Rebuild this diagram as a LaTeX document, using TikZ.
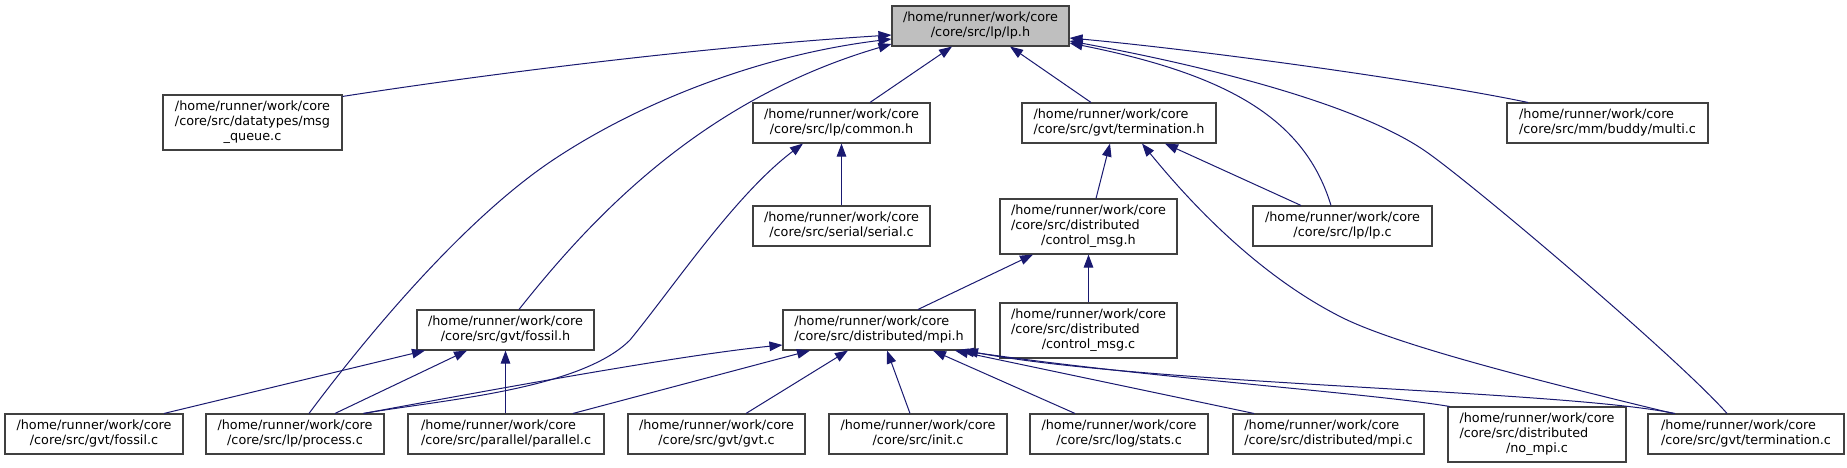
\documentclass[tikz,border=0pt]{standalone}
\usepackage{fontspec}
\setmainfont{DejaVu Sans}
\usetikzlibrary{arrows.meta}
\definecolor{edgec}{HTML}{191970}
\definecolor{boxline}{HTML}{404040}
\definecolor{boxfill}{HTML}{BFBFBF}
\newcommand{\ltwo}[2]{\begin{tabular}{@{}l@{}}#1\\\multicolumn{1}{@{}c@{}}{#2}\end{tabular}}
\newcommand{\lthree}[3]{\begin{tabular}{@{}l@{}}#1\\#2\\\multicolumn{1}{@{}c@{}}{#3}\end{tabular}}
\newcommand{\hrw}{/home/runner/work/core}
\begin{document}
\begin{tikzpicture}[x=1pt,y=-1pt,
  srcbox/.style={draw=boxline, line width=1.1pt, fill=white, inner sep=0pt, minimum height=40pt, font=\fontsize{12.8}{15}\selectfont},
  srctall/.style={srcbox, minimum height=55pt},
  curbox/.style={srcbox, fill=boxfill},
  incl/.style={draw=edgec, line width=1pt, -{Triangle[length=13pt,width=9.5pt]}}]
\useasboundingbox (0,0) rectangle (1847,468);
% nodes
\node[curbox, minimum width=177pt] (lph) at (980.5,26) {\ltwo{\hrw}{/core/src/lp/lp.h}};
\node[srctall, minimum width=179pt] (msgq) at (252.5,122.5) {\lthree{\hrw}{/core/src/datatypes/msg}{\_queue.c}};
\node[srcbox, minimum width=177pt] (common) at (841.5,123) {\ltwo{\hrw}{/core/src/lp/common.h}};
\node[srcbox, minimum width=194pt] (termh) at (1119,123) {\ltwo{\hrw}{/core/src/gvt/termination.h}};
\node[srcbox, minimum width=201pt] (multi) at (1607.5,123) {\ltwo{\hrw}{/core/src/mm/buddy/multi.c}};
\node[srcbox, minimum width=177pt] (serial) at (841.5,226) {\ltwo{\hrw}{/core/src/serial/serial.c}};
\node[srctall, minimum width=177pt] (ctrlh) at (1088.5,226.5) {\lthree{\hrw}{/core/src/distributed}{/control\_msg.h}};
\node[srcbox, minimum width=179pt] (lpc) at (1342.5,226) {\ltwo{\hrw}{/core/src/lp/lp.c}};
\node[srcbox, minimum width=177pt] (fossilh) at (505.5,330) {\ltwo{\hrw}{/core/src/gvt/fossil.h}};
\node[srcbox, minimum width=192pt] (mpih) at (879,330) {\ltwo{\hrw}{/core/src/distributed/mpi.h}};
\node[srctall, minimum width=177pt] (ctrlc) at (1088.5,330.5) {\lthree{\hrw}{/core/src/distributed}{/control\_msg.c}};
\node[srcbox, minimum width=178pt] (fossilc) at (94,434) {\ltwo{\hrw}{/core/src/gvt/fossil.c}};
\node[srcbox, minimum width=178pt] (process) at (295,434) {\ltwo{\hrw}{/core/src/lp/process.c}};
\node[srcbox, minimum width=196pt] (parallel) at (506,434) {\ltwo{\hrw}{/core/src/parallel/parallel.c}};
\node[srcbox, minimum width=177pt] (gvtc) at (716.5,434) {\ltwo{\hrw}{/core/src/gvt/gvt.c}};
\node[srcbox, minimum width=178pt] (initc) at (918,434) {\ltwo{\hrw}{/core/src/init.c}};
\node[srcbox, minimum width=178pt] (stats) at (1119,434) {\ltwo{\hrw}{/core/src/log/stats.c}};
\node[srcbox, minimum width=191pt] (mpic) at (1328.5,434) {\ltwo{\hrw}{/core/src/distributed/mpi.c}};
\node[srctall, minimum width=178pt] (nompi) at (1537,434.5) {\lthree{\hrw}{/core/src/distributed}{/no\_mpi.c}};
\node[srcbox, minimum width=196pt] (termc) at (1746,434) {\ltwo{\hrw}{/core/src/gvt/termination.c}};
% edges into lp.h
\draw[incl] ([yshift=-2pt]msgq.north east) .. controls (480,75) and (700,47) .. ([yshift=-9pt]lph.west);
\draw[incl] ([xshift=14pt]process.north) .. controls (360,345) and (460,222) .. (553,160) .. controls (640,102) and (760,55) .. ([yshift=-13pt]lph.west);
\draw[incl] ([xshift=13.5pt]fossilh.north) .. controls (590,220) and (700,100) .. ([yshift=-18pt]lph.west);
\draw[incl] ([xshift=28.5pt]common.north) -- ([xshift=-28.5pt]lph.south);
\draw[incl] ([xshift=-28pt]termh.north) -- ([xshift=29.5pt]lph.south);
\draw[incl] ([xshift=-79.5pt]multi.north) .. controls (1420,80) and (1200,50) .. ([yshift=-12pt]lph.east);
\draw[incl] ([xshift=-19pt]termc.north) .. controls (1680,360) and (1480,190) .. (1428,153) .. controls (1358,103) and (1200,65) .. ([yshift=-15pt]lph.east);
\draw[incl] ([xshift=-11.5pt]lpc.north) .. controls (1305,120) and (1230,75) .. ([yshift=-17pt]lph.east);
% edges into common.h
\draw[incl] ([xshift=-21pt]process.north east) .. controls (440,400) and (580,390) .. (630,340) .. controls (675,285) and (735,195) .. ([xshift=-38.5pt]common.south);
\draw[incl] (serial.north) -- (common.south);
% edges into termination.h
\draw[incl] ([xshift=7.5pt]ctrlh.north) -- ([xshift=-9pt]termh.south);
\draw[incl] ([xshift=-41.5pt]lpc.north) -- ([xshift=46pt]termh.south);
\draw[incl] ([xshift=-73pt]termc.north) .. controls (1560,386) and (1400,347) .. (1341,317) .. controls (1250,271) and (1180,190) .. ([xshift=23pt]termh.south);
% edges into control_msg.h
\draw[incl] ([xshift=39pt]mpih.north) -- ([xshift=-55.5pt]ctrlh.south);
\draw[incl] (ctrlc.north) -- (ctrlh.south);
% edges into fossil.h
\draw[incl] ([xshift=70pt]fossilc.north) -- ([xshift=-80.5pt]fossilh.south);
\draw[incl] ([xshift=40pt]process.north) -- ([xshift=-38.5pt]fossilh.south);
\draw[incl] (fossilh.south |- parallel.north) -- (fossilh.south);
% edges into mpi.h
\draw[incl] ([xshift=-21pt]process.north east) .. controls (480,392) and (680,355) .. ([yshift=-15pt]mpih.west);
\draw[incl] ([xshift=67pt]parallel.north) -- ([xshift=-69pt]mpih.south);
\draw[incl] ([xshift=29.5pt]gvtc.north) -- ([xshift=-31pt]mpih.south);
\draw[incl] ([xshift=-8pt]initc.north) -- ([xshift=8pt]mpih.south);
\draw[incl] ([xshift=-44pt]stats.north) -- ([xshift=54pt]mpih.south);
\draw[incl] ([xshift=-74.5pt]mpic.north) -- ([xshift=76pt]mpih.south);
\draw[incl] ([xshift=2pt]nompi.north west) .. controls (1370,393) and (1150,378) .. ([xshift=82pt]mpih.south);
\draw[incl] ([xshift=-71pt]termc.north) .. controls (1560,390) and (1150,385) .. ([xshift=86pt]mpih.south);
\end{tikzpicture}
\end{document}
